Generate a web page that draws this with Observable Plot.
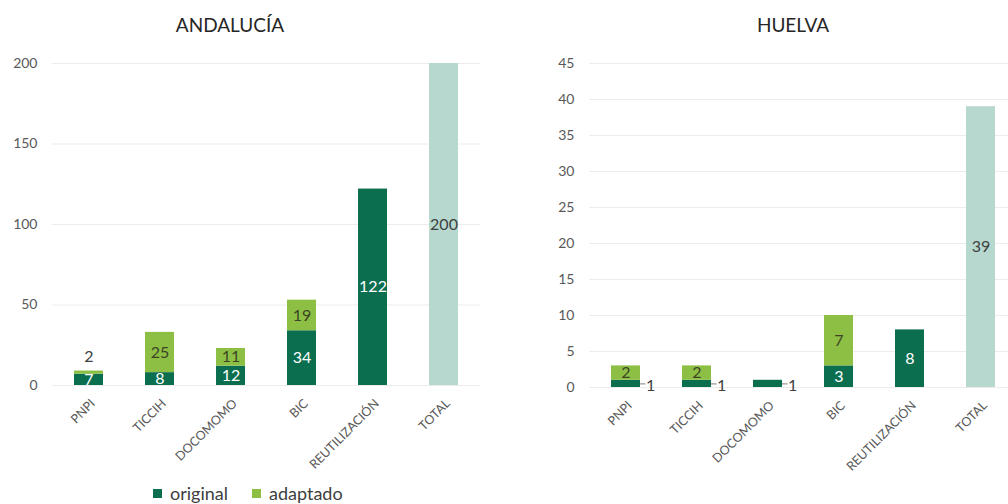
<!DOCTYPE html>
<html><head><meta charset="utf-8">
<script src="https://cdn.jsdelivr.net/npm/d3@7"></script>
<script src="https://cdn.jsdelivr.net/npm/@observablehq/plot@0.6"></script>
<style>
html,body{margin:0;padding:0;background:#fff;width:1008px;height:504px;overflow:hidden;position:relative;font-family:Lato,"Open Sans",sans-serif;}
.title{position:absolute;top:13px;font-size:19px;color:#262626;transform:translateX(-50%);white-space:nowrap;}
.chart{position:absolute;top:40px;}
.chart svg{max-width:none !important;}
.legend{position:absolute;top:482px;left:153px;font-size:18px;color:#404040;display:flex;align-items:center;}
.sw{display:inline-block;width:9px;height:9px;margin-right:8px;}
</style></head><body>
<div class="title" style="left:230px">ANDALUCÍA</div>
<div class="title" style="left:793px">HUELVA</div>
<div id="c1" class="chart" style="left:0;width:500px"></div>
<div id="c2" class="chart" style="left:500px;width:518px"></div>
<div class="legend"><span class="sw" style="background:#0b6e4f"></span>original<span class="sw" style="background:#8dbf45;margin-left:24px"></span>adaptado</div>
<script>
const categories = ["PNPI", "TICCIH", "DOCOMOMO", "BIC", "REUTILIZACIÓN", "TOTAL"];
const seriesNames = ["original", "adaptado", "total"];
const andaluciaOriginal = [7, 8, 12, 34, 122, 0];
const andaluciaAdaptado = [2, 25, 11, 19, 0, 0];
const andaluciaTotal = [0, 0, 0, 0, 0, 200];
const huelvaOriginal = [1, 1, 1, 3, 8, 0];
const huelvaAdaptado = [2, 2, 0, 7, 0, 0];
const huelvaTotal = [0, 0, 0, 0, 0, 39];
const andaluciaTicks = [0, 50, 100, 150, 200];
const huelvaTicks = [0, 5, 10, 15, 20, 25, 30, 35, 40, 45];

const colors = {original: "#0b6e4f", adaptado: "#8dbf45", total: "#b6d8cf"};
const labelColors = {original: "#ffffff", adaptado: "#3d4526", total: "#404040"};

function build(series) {
  const rows = [];
  categories.forEach((cat, i) => {
    let base = 0;
    seriesNames.forEach((s, k) => {
      const v = series[k][i];
      if (v > 0) { rows.push({cat, s, v, y1: base, y2: base + v, mid: base + v / 2}); base += v; }
    });
    rows.filter(r => r.cat === cat).forEach(r => r.top = base);
  });
  return rows;
}

function chart(el, series, ticks, opts) {
  const rows = build(series);
  const small = rows.filter(r => r.v <= opts.smallMax);
  const normal = rows.filter(r => r.v > opts.smallMax);
  const marks = [
    Plot.ruleY(ticks, {stroke: "#ececec", strokeWidth: 1}),
    Plot.barY(rows, {x: "cat", y1: "y1", y2: "y2", fill: d => colors[d.s]}),
    Plot.text(normal, {x: "cat", y: "mid", text: d => String(d.v), fill: d => labelColors[d.s], fontSize: 16})
  ];
  if (opts.smallMode === "above") {
    marks.push(Plot.text(small, {x: "cat", y: "top", text: d => String(d.v), fill: "#404040", fontSize: 16, dy: -14}));
  } else {
    marks.push(Plot.tickY(small, {x: "cat", y: "mid", stroke: "#808080", strokeWidth: 1, dx: 14.5, insetLeft: 14.5, insetRight: 9}));
    marks.push(Plot.text(small, {x: "cat", y: "mid", text: d => String(d.v), fill: "#404040", fontSize: 16, dx: 20, dy: 2, textAnchor: "start"}));
  }
  marks.push(Plot.axisY({ticks, tickSize: 0, tickPadding: 15, fontSize: 14, color: "#595959", label: null, tickFormat: d => String(d)}));
  marks.push(Plot.text(categories, {x: d => d, frameAnchor: "bottom", text: d => d, rotate: -45, textAnchor: "end", lineAnchor: "middle", fontSize: 12.5, fill: "#595959", dx: 4, dy: 16}));
  const svg = Plot.plot({
    width: opts.width, height: 420,
    marginTop: 23, marginBottom: opts.marginBottom, marginLeft: opts.marginLeft, marginRight: opts.marginRight,
    style: {fontFamily: "Lato, 'Open Sans', sans-serif", background: "transparent", overflow: "visible", maxWidth: "none"},
    x: {domain: categories, paddingInner: 0.59, paddingOuter: 0.3, align: 0.5, axis: null},
    y: {domain: [0, opts.yMax]},
    marks
  });
  document.getElementById(el).appendChild(svg);
}

chart("c1", [andaluciaOriginal, andaluciaAdaptado, andaluciaTotal], andaluciaTicks,
  {width: 500, marginLeft: 52, marginRight: 20, marginBottom: 75, yMax: 200, smallMax: 2, smallMode: "above"});
chart("c2", [huelvaOriginal, huelvaAdaptado, huelvaTotal], huelvaTicks,
  {width: 518, marginLeft: 89, marginRight: 0, marginBottom: 73, yMax: 45, smallMax: 1, smallMode: "right"});
</script>
</body></html>
